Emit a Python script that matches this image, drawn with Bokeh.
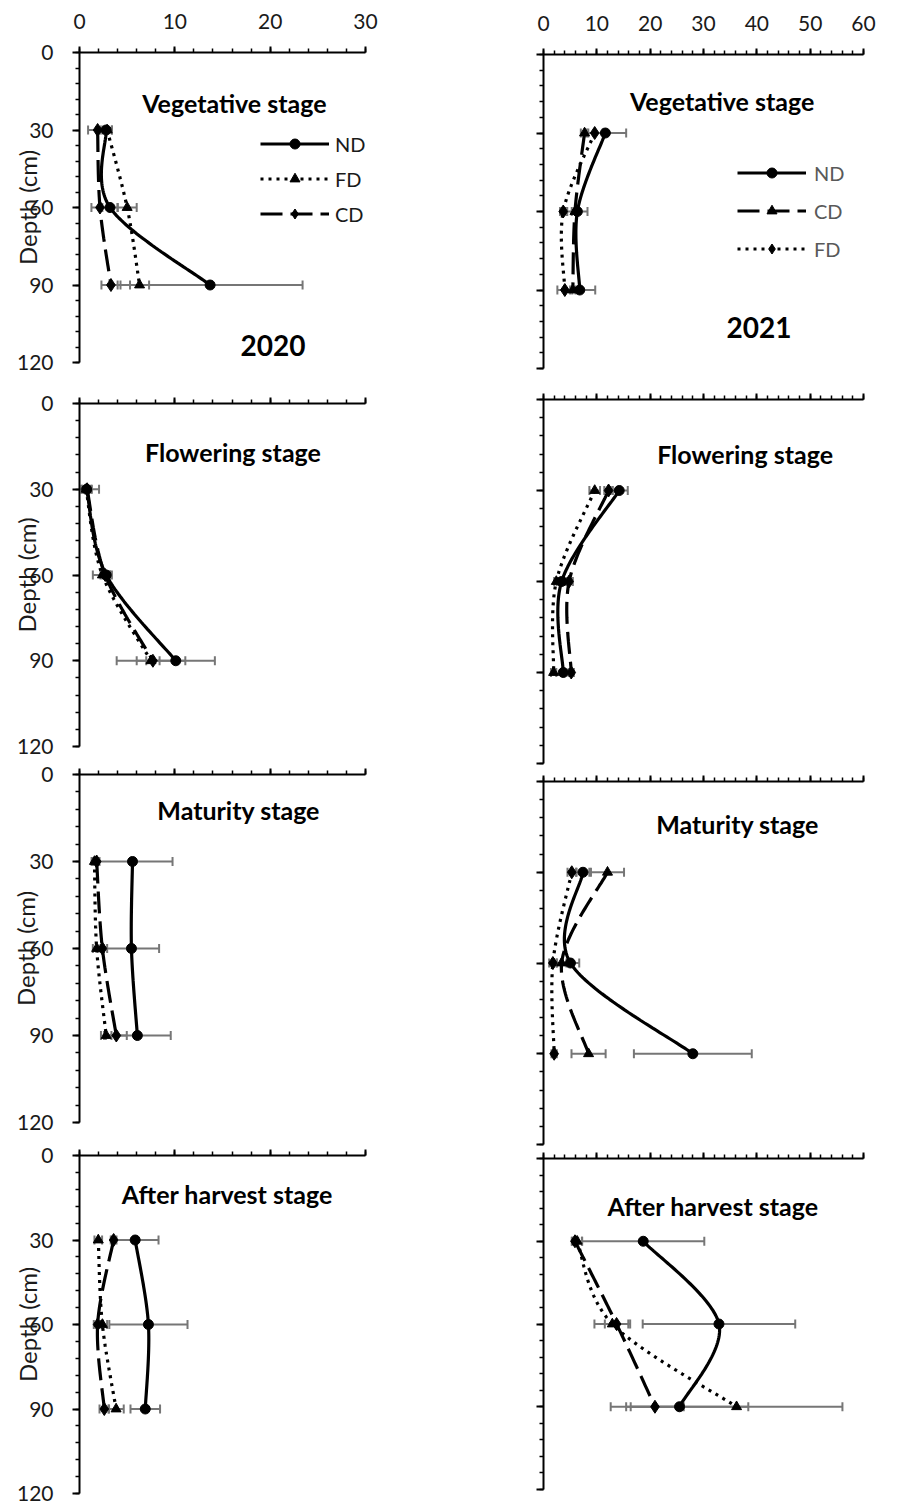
import numpy as np
from bokeh.plotting import figure
from bokeh.models import (Range1d, SingleIntervalTicker, ColumnDataSource, Whisker,
                          TeeHead, Label, Legend, LegendItem)
from bokeh.layouts import row, column
from bokeh.embed import file_html
from bokeh.resources import INLINE

FONT = "Lato"

# Sampling depths (cm)
depth = [30, 60, 90]

# ---- 2020 ----
veg20_nd, veg20_nd_err = [2.8, 3.2, 13.7], [0.6, 0.8, 9.7]
veg20_fd, veg20_fd_err = [2.9, 5.0, 6.3], [0.5, 1.0, 1.0]
veg20_cd, veg20_cd_err = [1.9, 2.15, 3.3], [1.0, 0.9, 1.0]

flo20_nd, flo20_nd_err = [0.75, 2.8, 10.1], [1.3, 0.4, 4.1]
flo20_fd, flo20_fd_err = [0.7, 2.4, 7.5], [0.5, 1.0, 3.6]
flo20_cd, flo20_cd_err = [0.8, 2.7, 7.7], [0.5, 0.5, 0.7]

mat20_nd, mat20_nd_err = [5.56, 5.45, 6.07], [4.2, 2.9, 3.5]
mat20_fd, mat20_fd_err = [1.57, 1.8, 2.8], [0.3, 0.4, 0.55]
mat20_cd, mat20_cd_err = [1.8, 2.4, 3.86], [0.3, 0.5, 1.1]

ah20_nd, ah20_nd_err = [5.84, 7.23, 6.9], [2.45, 4.1, 1.55]
ah20_fd, ah20_fd_err = [1.97, 2.4, 3.84], [0.4, 0.5, 0.8]
ah20_cd, ah20_cd_err = [3.58, 1.9, 2.6], [0.3, 0.4, 0.5]

# ---- 2021 ----
veg21_nd, veg21_nd_err = [11.6, 6.35, 6.8], [3.9, 1.9, 2.9]
veg21_fd, veg21_fd_err = [9.6, 3.7, 4.0], [1.5, 0.6, 1.4]
veg21_cd, veg21_cd_err = [7.7, 5.9, 5.5], [0.7, 0.6, 0.5]

flo21_nd, flo21_nd_err = [14.2, 3.4, 3.7], [1.6, 0.9, 0.4]
flo21_fd, flo21_fd_err = [9.6, 2.4, 1.9], [1.0, 0.4, 0.5]
flo21_cd, flo21_cd_err = [12.2, 4.8, 5.2], [0.8, 0.7, 0.5]

mat21_nd, mat21_nd_err = [7.4, 5.05, 28.0], [1.2, 1.65, 11.05]
mat21_fd, mat21_fd_err = [5.3, 1.76, 2.0], [0.8, 0.7, 0.5]
mat21_cd, mat21_cd_err = [12.0, 3.4, 8.45], [3.1, 0.9, 3.2]

ah21_nd, ah21_nd_err = [18.7, 32.9, 25.5], [11.45, 14.3, 12.9]
ah21_fd, ah21_fd_err = [6.3, 12.9, 36.2], [0.9, 3.35, 19.85]
ah21_cd, ah21_cd_err = [5.9, 13.7, 20.9], [0.6, 2.2, 5.4]

DASH = {"ND": "solid", "FD": "3 5", "CD": "22 8"}


def smooth(xs, ys, n=40):
    """Cubic Bezier curve through the points (Catmull-Rom style control points)."""
    P = np.column_stack([xs, ys]).astype(float)
    out = []
    for i in range(len(P) - 1):
        p0 = P[i - 1] if i > 0 else P[i]
        p1, p2 = P[i], P[i + 1]
        p3 = P[i + 2] if i + 2 < len(P) else P[i + 1]
        c1 = p1 + (p2 - p0) / 6.0
        c2 = p2 - (p3 - p1) / 6.0
        t = np.linspace(0, 1, n)[:, None]
        seg = ((1 - t) ** 3) * p1 + 3 * ((1 - t) ** 2) * t * c1 + 3 * (1 - t) * t ** 2 * c2 + t ** 3 * p2
        out.append(seg if i == 0 else seg[1:])
    out = np.vstack(out)
    return out[:, 0], out[:, 1]


def make_panel(w, h, borders, xmax, series, title, title_xy, xlabels, ylabels,
               depth_standoff=None, legend=None, year=None):
    left, right, top, bottom = borders
    p = figure(width=w, height=h, x_range=Range1d(0, xmax), y_range=Range1d(120, 0),
               x_axis_location="above", toolbar_location=None, output_backend="svg",
               min_border_left=left, min_border_right=right,
               min_border_top=top, min_border_bottom=bottom)
    p.outline_line_color = None
    p.xgrid.visible = False
    p.ygrid.visible = False

    xa = p.xaxis[0]
    xa.ticker = SingleIntervalTicker(interval=10, num_minor_ticks=5)
    xa.axis_line_width = 2
    xa.major_tick_out, xa.major_tick_in = 6, 0
    xa.minor_tick_out, xa.minor_tick_in = 4, 0
    xa.major_tick_line_width = 2
    xa.minor_tick_line_width = 1.5
    ya = p.yaxis[0]
    ya.ticker = SingleIntervalTicker(interval=30, num_minor_ticks=5)
    ya.axis_line_width = 2
    ya.major_tick_out, ya.major_tick_in = 7, 0
    ya.minor_tick_out, ya.minor_tick_in = 4, 0
    ya.major_tick_line_width = 2
    ya.minor_tick_line_width = 1.5
    for ax, show, so in ((xa, xlabels, 18), (ya, ylabels, 19)):
        ax.major_label_text_font = FONT
        ax.major_label_text_font_size = "21px"
        if show:
            ax.major_label_text_color = "#1a1a1a"
            ax.major_label_standoff = so
        else:
            ax.major_label_text_color = None
            ax.major_label_standoff = 0
    if depth_standoff is not None:
        ya.axis_label = "Depth (cm)"
        ya.axis_label_text_font = FONT
        ya.axis_label_text_font_size = "24px"
        ya.axis_label_text_font_style = "normal"
        ya.axis_label_text_color = "#1a1a1a"
        ya.axis_label_standoff = depth_standoff

    renderers = {}
    for name, vals, errs, marker in series:
        src = ColumnDataSource(dict(x=vals, y=depth,
                                    lo=[v - e for v, e in zip(vals, errs)],
                                    hi=[v + e for v, e in zip(vals, errs)]))
        wk = Whisker(source=src, base="y", lower="lo", upper="hi", dimension="width",
                     line_color="#767676", line_width=2, level="underlay",
                     lower_head=TeeHead(size=9, line_color="#767676", line_width=2),
                     upper_head=TeeHead(size=9, line_color="#767676", line_width=2))
        p.add_layout(wk)
        sx, sy = smooth(vals, depth)
        lr = p.line(sx, sy, line_color="black", line_width=3.2, line_dash=DASH[name])
        msize = 10 if marker != "diamond" else 13
        mr = p.scatter("x", "y", source=src, marker=marker, size=msize,
                       fill_color="black", line_color="black")
        renderers[name] = (lr, mr)

    tx, ty = title_xy
    p.add_layout(Label(x=tx, y=ty, text=title, text_font=FONT, text_font_style="bold",
                       text_font_size="25px", text_align="center", text_baseline="middle",
                       text_color="black"))
    if year is not None:
        yx, yy, ytxt = year
        p.add_layout(Label(x=yx, y=yy, text=ytxt, text_font=FONT, text_font_style="bold",
                           text_font_size="28px", text_align="center",
                           text_baseline="middle", text_color="black"))
    if legend is not None:
        order, loc, spacing, standoff, color = legend
        items = [LegendItem(label=n, renderers=list(renderers[n])) for n in order]
        lg = Legend(items=items, location=loc, orientation="vertical",
                    glyph_width=69, glyph_height=25, label_height=25, spacing=spacing,
                    label_standoff=standoff, padding=0, margin=0,
                    border_line_color=None, background_fill_alpha=0,
                    label_text_font=FONT, label_text_font_size="20px",
                    label_text_color=color)
        p.add_layout(lg)
    return p


LW, RW = 460, 447

p1 = make_panel(LW, 385, (77, 95, 52, 23), 30,
                [("ND", veg20_nd, veg20_nd_err, "circle"),
                 ("FD", veg20_fd, veg20_fd_err, "triangle"),
                 ("CD", veg20_cd, veg20_cd_err, "diamond")],
                "Vegetative stage", (16.25, 19.7), True, True, depth_standoff=-28,
                legend=(["ND", "FD", "CD"], (181, 136), 10, 6, "#1a1a1a"),
                year=(20.3, 113.4, "2020"))
p3 = make_panel(LW, 375, (79, 91, 18, 14), 30,
                [("ND", flo20_nd, flo20_nd_err, "circle"),
                 ("FD", flo20_fd, flo20_fd_err, "triangle"),
                 ("CD", flo20_cd, flo20_cd_err, "diamond")],
                "Flowering stage", (16.1, 17.1), False, True, depth_standoff=-27)
p5 = make_panel(LW, 380, (79, 88, 14, 18), 30,
                [("ND", mat20_nd, mat20_nd_err, "circle"),
                 ("FD", mat20_fd, mat20_fd_err, "triangle"),
                 ("CD", mat20_cd, mat20_cd_err, "diamond")],
                "Maturity stage", (16.7, 12.1), False, True, depth_standoff=-26)
p7 = make_panel(LW, 366, (77, 73, 15, 13), 30,
                [("ND", ah20_nd, ah20_nd_err, "circle"),
                 ("FD", ah20_fd, ah20_fd_err, "triangle"),
                 ("CD", ah20_cd, ah20_cd_err, "diamond")],
                "After harvest stage", (15.5, 13.8), False, True, depth_standoff=-28)

p2 = make_panel(RW, 384, (82, 44, 54, 16), 60,
                [("ND", veg21_nd, veg21_nd_err, "circle"),
                 ("CD", veg21_cd, veg21_cd_err, "triangle"),
                 ("FD", veg21_fd, veg21_fd_err, "diamond")],
                "Vegetative stage", (33.5, 17.6), True, False,
                legend=(["ND", "CD", "FD"], (194, 107), 13, 8, "#595959"),
                year=(40.4, 104.3, "2021"))
p4 = make_panel(RW, 386, (83, 7, 15, 7), 60,
                [("ND", flo21_nd, flo21_nd_err, "circle"),
                 ("FD", flo21_fd, flo21_fd_err, "triangle"),
                 ("CD", flo21_cd, flo21_cd_err, "diamond")],
                "Flowering stage", (37.8, 18.1), False, False)
p6 = make_panel(RW, 380, (81, 2, 11, 6), 60,
                [("ND", mat21_nd, mat21_nd_err, "circle"),
                 ("FD", mat21_fd, mat21_fd_err, "diamond"),
                 ("CD", mat21_cd, mat21_cd_err, "triangle")],
                "Maturity stage", (36.4, 13.9), False, False)
p8 = make_panel(RW, 356, (82, 5, 8, 17), 60,
                [("ND", ah21_nd, ah21_nd_err, "circle"),
                 ("FD", ah21_fd, ah21_fd_err, "triangle"),
                 ("CD", ah21_cd, ah21_cd_err, "diamond")],
                "After harvest stage", (31.8, 17.4), False, False)

layout = row(column(p1, p3, p5, p7, spacing=0), column(p2, p4, p6, p8, spacing=0), spacing=0)

open("out.html", "w").write(file_html(layout, INLINE))
